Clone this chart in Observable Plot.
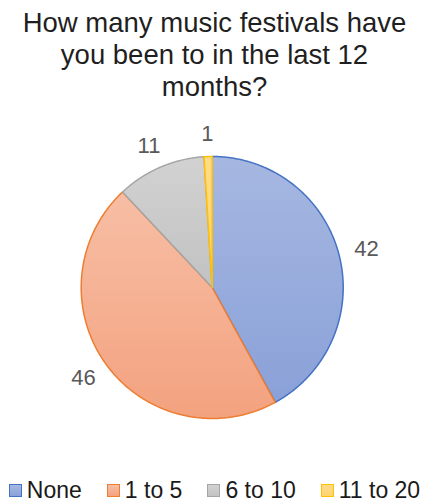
<!DOCTYPE html>
<html>
<head>
<meta charset="utf-8">
<script src="https://cdn.jsdelivr.net/npm/d3@7"></script>
<script src="https://cdn.jsdelivr.net/npm/@observablehq/plot@0.6"></script>
<style>
  html, body { margin: 0; padding: 0; background: #fff; }
  body { width: 429px; height: 504px; overflow: hidden; font-family: "Liberation Sans", Arial, sans-serif; }
  #title { font-size: 27.5px; line-height: 32px; color: #1f1f1f; text-align: center; padding-top: 7px; height: 97px; }
  #chart svg { display: block; }
  #legend { display: flex; justify-content: center; align-items: center; gap: 25px; font-size: 23px; color: #1a1a1a; margin-top: 13px; }
  #legend .item { display: flex; align-items: center; gap: 5px; }
  #legend .sw { width: 11px; height: 11px; border: 1.5px solid; }
</style>
</head>
<body>
<div id="title">How many music festivals have<br>you been to in the last 12<br>months?</div>
<div id="chart"></div>
<div id="legend"></div>
<script>
const categories = ["None", "1 to 5", "6 to 10", "11 to 20"];
const counts = [42, 46, 11, 1];
const strokeColors = ["#4472c4", "#ed7d31", "#a5a5a5", "#ffc000"];
const fillTop = ["#a6b7e1", "#f7bea5", "#d2d2d2", "#ffdc8a"];
const fillBottom = ["#8aa1d8", "#f3a27f", "#c2c2c2", "#ffd36e"];

const W = 429, H = 360;
const R = 131;            // pie radius in px (1 data unit)
const cx = 211.7, cy = 183;

const total = d3.sum(counts);
const slices = [];
let acc = 0;
categories.forEach((c, i) => {
  const a0 = acc / total * 2 * Math.PI;
  acc += counts[i];
  const a1 = acc / total * 2 * Math.PI;
  slices.push({cat: c, i, value: counts[i], a0, a1});
});

// polygon points for each slice (center + arc)
function slicePoints(s) {
  const pts = [{x: 0, y: 0}];
  const n = Math.max(2, Math.ceil((s.a1 - s.a0) / (Math.PI / 360)));
  for (let k = 0; k <= n; k++) {
    const a = s.a0 + (s.a1 - s.a0) * k / n;
    pts.push({x: Math.sin(a), y: Math.cos(a)});
  }
  return pts;
}

// label positions: outside end, box pushed outward
const fontPx = 22, gapPx = 16;
const labels = slices.map(s => {
  const a = (s.a0 + s.a1) / 2;
  const txt = String(s.value);
  const halfW = txt.length * 0.556 * fontPx / 2;
  const halfH = 7;
  const sx = Math.sin(a), cy_ = Math.cos(a);
  const px = (R + gapPx) * sx + sx * halfW;
  const py = (R + gapPx) * cy_ + cy_ * halfH;
  return {text: txt, x: px / R, y: py / R};
});

const marks = slices.map(s => Plot.line(slicePoints(s), {
  x: "x", y: "y",
  curve: "linear-closed",
  fill: `url(#grad${s.i})`,
  stroke: strokeColors[s.i],
  strokeWidth: 1.5,
  strokeLinejoin: "round"
}));
marks.push(Plot.text(labels, {
  x: "x", y: "y", text: "text",
  fill: "#595959", fontSize: fontPx,
  fontFamily: "Liberation Sans, Arial, sans-serif"
}));

const svg = Plot.plot({
  width: W, height: H,
  margin: 0,
  x: {domain: [-cx / R, (W - cx) / R], axis: null},
  y: {domain: [-(H - cy) / R, cy / R], axis: null},
  style: {background: "transparent", overflow: "visible"},
  marks
});

// gradient definitions
const defs = d3.create("svg:defs");
slices.forEach(s => {
  const g = defs.append("linearGradient")
    .attr("id", `grad${s.i}`)
    .attr("x1", 0).attr("y1", 0).attr("x2", 0).attr("y2", 1);
  g.append("stop").attr("offset", "0%").attr("stop-color", fillTop[s.i]);
  g.append("stop").attr("offset", "100%").attr("stop-color", fillBottom[s.i]);
});
svg.insertBefore(defs.node(), svg.firstChild);
document.getElementById("chart").appendChild(svg);

// legend
const legend = d3.select("#legend");
categories.forEach((c, i) => {
  const it = legend.append("div").attr("class", "item");
  it.append("div").attr("class", "sw")
    .style("border-color", strokeColors[i])
    .style("background", `linear-gradient(${fillTop[i]}, ${fillBottom[i]})`);
  it.append("span").text(c);
});
</script>
</body>
</html>
